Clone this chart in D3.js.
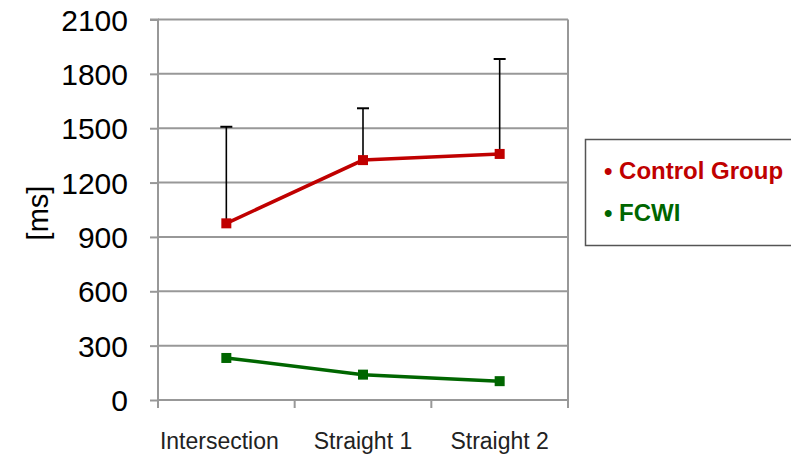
<!DOCTYPE html>
<html><head><meta charset="utf-8">
<script src="https://cdn.jsdelivr.net/npm/d3@7"></script>
<style>body{margin:0;background:#fff}svg{display:block}</style>
</head><body>
<svg id="c" width="791" height="456"></svg>
<script>
const categories = ["Intersection", "Straight 1", "Straight 2"];
const controlValues = [975, 1324, 1358];
const controlErrorTop = [1508, 1610, 1882];
const fcwiValues = [232, 140, 104];
const yTicks = [0, 300, 600, 900, 1200, 1500, 1800, 2100];
const seriesNames = ["Control Group", "FCWI"];
const seriesColors = ["#c00000", "#006600"];

const svg = d3.select("#c");
const L = 158, R = 568, T = 19.5, B = 400;
const x = d3.scaleBand().domain(categories).range([L, R]);
const y = d3.scaleLinear().domain([0, 2100]).range([B, T]);
const font = "'Liberation Sans', Arial, sans-serif";

// gridlines
svg.append("g").selectAll("line").data(yTicks.filter(d => d > 0)).join("line")
  .attr("x1", L).attr("x2", R).attr("y1", d => y(d)).attr("y2", d => y(d))
  .attr("stroke", "#989898").attr("stroke-width", 2);
// right border
svg.append("line").attr("x1", R).attr("x2", R).attr("y1", T).attr("y2", B + 8)
  .attr("stroke", "#989898").attr("stroke-width", 2);

// y axis
const ya = svg.append("g").attr("transform", `translate(${L},0)`)
  .call(d3.axisLeft(y).tickValues(yTicks).tickFormat(d3.format("d")).tickSize(8).tickPadding(22));
ya.select(".domain").attr("stroke", "#989898").attr("stroke-width", 2).attr("d", `M-8,${T}H0V${B}`);
ya.selectAll(".tick line").attr("stroke", "#989898").attr("stroke-width", 2);
ya.selectAll(".tick text").attr("font-family", font).attr("font-size", 30).attr("fill", "#000").attr("dy", "0.35em");

// x axis
const xa = svg.append("g").attr("transform", `translate(0,${B})`);
xa.append("line").attr("x1", L).attr("x2", R).attr("stroke", "#989898").attr("stroke-width", 2);
const bounds = categories.map(c => x(c)).concat([R]);
xa.selectAll("line.t").data(bounds).join("line").attr("class", "t")
  .attr("x1", d => d).attr("x2", d => d).attr("y1", 0).attr("y2", 8)
  .attr("stroke", "#989898").attr("stroke-width", 2);
xa.selectAll("text").data(categories).join("text")
  .attr("x", (d, i) => x(d) + x.bandwidth() / 2 - (i === 0 ? 7 : 0)).attr("y", 49)
  .attr("text-anchor", "middle").attr("font-family", font).attr("font-size", 23).attr("fill", "#222")
  .text(d => d);

// y label
svg.append("text").attr("transform", "translate(48,213) rotate(-90)")
  .attr("text-anchor", "middle").attr("font-family", font).attr("font-size", 29).attr("fill", "#000")
  .text("[ms]");

const cx = d => x(d) + x.bandwidth() / 2;
// error bars
const eb = svg.append("g");
categories.forEach((c, i) => {
  eb.append("line").attr("x1", cx(c)).attr("x2", cx(c)).attr("y1", y(controlValues[i])).attr("y2", y(controlErrorTop[i]))
    .attr("stroke", "#000").attr("stroke-width", 1.6);
  eb.append("line").attr("x1", cx(c) - 6).attr("x2", cx(c) + 6).attr("y1", y(controlErrorTop[i])).attr("y2", y(controlErrorTop[i]))
    .attr("stroke", "#000").attr("stroke-width", 2);
});

const line = d3.line().x((d, i) => cx(categories[i])).y(d => y(d));
[controlValues, fcwiValues].forEach((vals, s) => {
  svg.append("path").datum(vals).attr("d", line).attr("fill", "none")
    .attr("stroke", seriesColors[s]).attr("stroke-width", 3.5);
  svg.append("g").selectAll("rect").data(vals).join("rect")
    .attr("x", (d, i) => cx(categories[i]) - 5).attr("y", d => y(d) - 5)
    .attr("width", 10).attr("height", 10).attr("fill", seriesColors[s]);
});

// legend
svg.append("rect").attr("x", 585.5).attr("y", 139.5).attr("width", 215).attr("height", 106)
  .attr("fill", "#fff").attr("stroke", "#555").attr("stroke-width", 1.5);
seriesNames.forEach((n, i) => {
  svg.append("text").attr("x", 604).attr("y", 179 + i * 42)
    .attr("font-family", font).attr("font-size", 24).attr("font-weight", "bold")
    .attr("fill", seriesColors[i]).text("\u2022 " + n);
});
</script>
</body></html>
